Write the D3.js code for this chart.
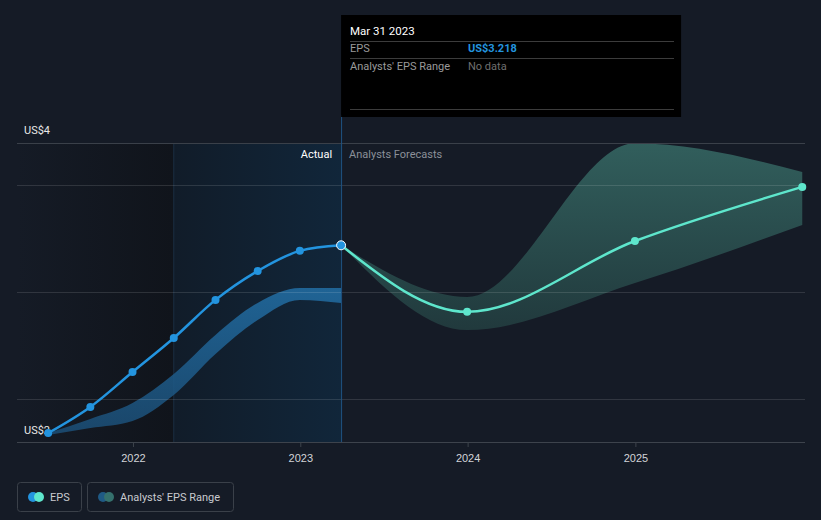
<!DOCTYPE html>
<html><head><meta charset="utf-8">
<script src="https://cdn.jsdelivr.net/npm/d3@7/dist/d3.min.js"></script>
<style>
html,body{margin:0;padding:0;background:#151b26;}
svg{display:block;font-family:Roboto,"Open Sans",sans-serif;}
</style></head>
<body><svg id="c" width="821" height="520"></svg>
<script>
// ---- data ----
const histDates = ["2021-06-30","2021-09-30","2021-12-31","2022-03-31","2022-06-30","2022-09-30","2022-12-31","2023-03-31"];
const histEPS   = [2.341, 2.463, 2.626, 2.785, 2.963, 3.098, 3.192, 3.218];
const histLow   = [2.332, 2.364, 2.397, 2.519, 2.710, 2.869, 2.963, 2.949];
const histHigh  = [2.341, 2.407, 2.481, 2.617, 2.799, 2.949, 3.019, 3.019];
const fcDates   = ["2023-03-31","2023-12-31","2024-12-31","2025-12-31"];
const fcEPS     = [3.218, 2.907, 3.238, 3.491];
const fcLow     = [3.218, 2.822, 3.042, 3.313];
const fcHigh    = [3.218, 2.977, 3.695, 3.561];
const gridValues = [2.5, 3.0, 3.5];
const yDomain = [2.299, 3.696];
const yLabels = ["US$2", "US$4"];
const xTicks = ["2022-01-01","2023-01-01","2024-01-01","2025-01-01"];
const hoverDate = "2023-03-31";
const pastStart = "2022-03-31";
const tooltip = {date:"Mar 31 2023", eps:"US$3.218", range:"No data"};

// ---- setup ----
const P = d3.timeParse("%Y-%m-%d");
const svg = d3.select("#c");
const L = 17, R = 805, T = 143, B = 442;
const x = d3.scaleTime().domain([P("2021-04-23"), P("2026-01-06")]).range([L, R]);
const y = d3.scaleLinear().domain(yDomain).range([B, T]);

const defs = svg.append("defs");
const g1 = defs.append("linearGradient").attr("id","dark").attr("x1","0").attr("x2","1");
g1.append("stop").attr("offset","0").attr("stop-color","#151b26");
g1.append("stop").attr("offset","1").attr("stop-color","#10141b");
const g2 = defs.append("linearGradient").attr("id","hl").attr("x1","0").attr("x2","1");
g2.append("stop").attr("offset","0").attr("stop-color","#111c29");
g2.append("stop").attr("offset","1").attr("stop-color","#11263a");
const g3 = defs.append("linearGradient").attr("id","fcband").attr("gradientUnits","userSpaceOnUse")
  .attr("x1",0).attr("x2",0).attr("y1",T).attr("y2",335);
g3.append("stop").attr("offset","0").attr("stop-color","#33625f");
g3.append("stop").attr("offset","1").attr("stop-color","#213a3d");
const g4 = defs.append("linearGradient").attr("id","hband").attr("gradientUnits","userSpaceOnUse")
  .attr("x1",0).attr("x2",0).attr("y1",285).attr("y2",440);
g4.append("stop").attr("offset","0").attr("stop-color","#226fa6");
g4.append("stop").attr("offset","1").attr("stop-color","#1b4d75");

const xPast = x(P(pastStart)), xHover = x(P(hoverDate));
svg.append("rect").attr("x",L).attr("y",T).attr("width",xPast-L).attr("height",B-T).attr("fill","url(#dark)");
svg.append("rect").attr("x",xPast).attr("y",T).attr("width",xHover-xPast).attr("height",B-T).attr("fill","url(#hl)");
svg.append("line").attr("x1",xPast).attr("x2",xPast).attr("y1",T).attr("y2",B).attr("stroke","#1a2e42").attr("stroke-width",1);

const curve = d3.curveMonotoneX;
const hist = histDates.map((d,i)=>({d:P(d),v:histEPS[i],lo:histLow[i],hi:histHigh[i]}));
const fc = fcDates.map((d,i)=>({d:P(d),v:fcEPS[i],lo:fcLow[i],hi:fcHigh[i]}));
svg.append("path").datum(hist).attr("fill","url(#hband)").attr("fill-opacity",0.85)
  .attr("d",d3.area().curve(curve).x(d=>x(d.d)).y0(d=>y(d.lo)).y1(d=>y(d.hi)));
svg.append("path").datum(fc).attr("fill","url(#fcband)").attr("fill-opacity",0.95)
  .attr("d",d3.area().curve(curve).x(d=>x(d.d)).y0(d=>y(d.lo)).y1(d=>y(d.hi)));

// grid
svg.selectAll(".grid").data(gridValues).enter().append("line")
  .attr("x1",L).attr("x2",R).attr("y1",d=>Math.round(y(d))+0.5).attr("y2",d=>Math.round(y(d))+0.5)
  .attr("stroke","#ffffff").attr("stroke-opacity",0.12).attr("stroke-width",1);
svg.append("line").attr("x1",L).attr("x2",R).attr("y1",T+0.5).attr("y2",T+0.5).attr("stroke","#3a4049");

// x axis
const xa = svg.append("g").attr("transform",`translate(0,${B})`)
  .call(d3.axisBottom(x).tickValues(xTicks.map(P)).tickFormat(d3.timeFormat("%Y")).tickSize(5).tickSizeOuter(0));
xa.select(".domain").attr("stroke","#3d434c").attr("d",`M${L},0.5H${R}`);
xa.selectAll(".tick line").attr("stroke","#3d434c");
xa.selectAll(".tick text").attr("fill","#d2d4d8").attr("font-size",11).attr("dy","1.05em");

// hover line
svg.append("line").attr("x1",xHover+0.5).attr("x2",xHover+0.5).attr("y1",115).attr("y2",B).attr("stroke","#1f5382").attr("stroke-width",1);

// labels
svg.append("text").attr("x",24).attr("y",T-9).text(yLabels[1]).attr("fill","#e8e8e8").attr("font-size",11);
svg.append("text").attr("x",24).attr("y",B-8).text(yLabels[0]).attr("fill","#e8e8e8").attr("font-size",11);
svg.append("text").attr("x",xHover-9).attr("y",158).attr("text-anchor","end").text("Actual").attr("fill","#ffffff").attr("font-size",11);
svg.append("text").attr("x",xHover+8).attr("y",158).text("Analysts Forecasts").attr("fill","#8b9099").attr("font-size",11);

// lines
svg.append("path").datum(fc).attr("fill","none").attr("stroke","#5ee6cc").attr("stroke-width",2.5)
  .attr("d",d3.line().curve(curve).x(d=>x(d.d)).y(d=>y(d.v)));
svg.append("path").datum(hist).attr("fill","none").attr("stroke","#2394df").attr("stroke-width",2.5)
  .attr("d",d3.line().curve(curve).x(d=>x(d.d)).y(d=>y(d.v)));
svg.selectAll(".fp").data(fc.slice(1)).enter().append("circle")
  .attr("cx",d=>x(d.d)).attr("cy",d=>y(d.v)).attr("r",4).attr("fill","#5ee6cc");
svg.selectAll(".hp").data(hist.slice(0,-1)).enter().append("circle")
  .attr("cx",d=>x(d.d)).attr("cy",d=>y(d.v)).attr("r",4).attr("fill","#2394df");
const last = hist[hist.length-1];
svg.append("circle").attr("cx",x(last.d)).attr("cy",y(last.v)).attr("r",4.5).attr("fill","#2394df").attr("stroke","#ffffff").attr("stroke-width",1);

// tooltip
const tt = svg.append("g");
tt.append("rect").attr("x",xHover).attr("y",15).attr("width",340).attr("height",102).attr("fill","#000000");
tt.append("text").attr("x",350).attr("y",35).text(tooltip.date).attr("fill","#ffffff").attr("font-size",11.5);
[41,58,109].forEach(v=>tt.append("line").attr("x1",350).attr("x2",674).attr("y1",v+0.5).attr("y2",v+0.5).attr("stroke","#3c3c3c"));
tt.append("text").attr("x",350).attr("y",52).text("EPS").attr("fill","#9a9a9a").attr("font-size",11);
tt.append("text").attr("x",468).attr("y",52).text(tooltip.eps).attr("fill","#2394df").attr("font-size",11).attr("font-weight","bold");
tt.append("text").attr("x",350).attr("y",70).text("Analysts' EPS Range").attr("fill","#9a9a9a").attr("font-size",11);
tt.append("text").attr("x",468).attr("y",70).text(tooltip.range).attr("fill","#6f6f6f").attr("font-size",11);

// legend
const lg = svg.append("g");
lg.append("rect").attr("x",17.5).attr("y",482.5).attr("width",64).attr("height",29).attr("rx",3).attr("fill","none").attr("stroke","#3a4049");
lg.append("circle").attr("cx",33).attr("cy",497).attr("r",5).attr("fill","#2394df");
lg.append("circle").attr("cx",39).attr("cy",497).attr("r",5).attr("fill","#5ee6cc");
lg.append("text").attr("x",50).attr("y",501).text("EPS").attr("fill","#c8cacf").attr("font-size",11);
lg.append("rect").attr("x",87.5).attr("y",482.5).attr("width",146).attr("height",29).attr("rx",3).attr("fill","none").attr("stroke","#3a4049");
lg.append("circle").attr("cx",103).attr("cy",497).attr("r",5).attr("fill","#1f5a85");
lg.append("circle").attr("cx",109).attr("cy",497).attr("r",5).attr("fill","#35716d");
lg.append("text").attr("x",120).attr("y",501).text("Analysts' EPS Range").attr("fill","#c8cacf").attr("font-size",11);
</script></body></html>
